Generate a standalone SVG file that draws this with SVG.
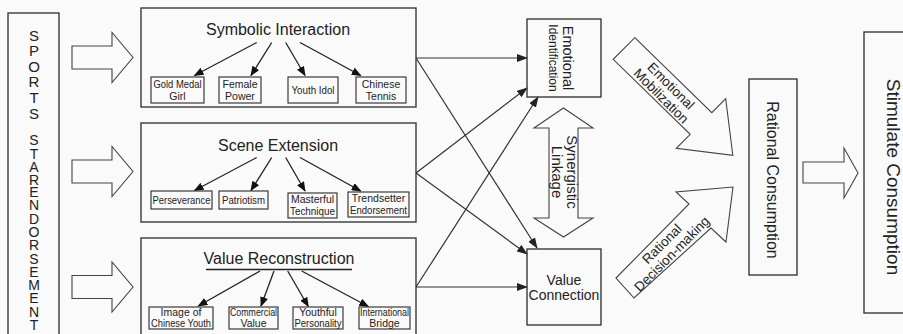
<svg xmlns="http://www.w3.org/2000/svg" width="903" height="334" viewBox="0 0 903 334">
<defs>
<marker id="ah" markerUnits="userSpaceOnUse" markerWidth="11" markerHeight="8" refX="10" refY="4" orient="auto">
<path d="M0,0 L11,4 L0,8 Z" fill="#222"/>
</marker>
<marker id="sh" markerUnits="userSpaceOnUse" markerWidth="10" markerHeight="8" refX="9" refY="4" orient="auto">
<path d="M0,0 L10,4 L0,8 Z" fill="#111"/>
</marker>
<style>
.bx{fill:none;stroke:#3a3a3a;stroke-width:1.4}
.sb{fill:#fafafa;stroke:#3a3a3a;stroke-width:1.2}
.ba{fill:#fafafa;stroke:#444;stroke-width:1.1;stroke-linejoin:miter}
.cn{fill:none;stroke:#333;stroke-width:1.2;marker-end:url(#ah)}
.sa{fill:none;stroke:#222;stroke-width:1.3;marker-end:url(#sh)}
text{font-family:"Liberation Sans",Arial,sans-serif;fill:#222}
.tt{font-size:16px;text-anchor:middle}
.st{font-size:10.5px;text-anchor:middle}
.mid{text-anchor:middle}
.vt{writing-mode:vertical-rl;text-orientation:upright}
</style>
</defs>
<rect width="903" height="334" fill="#fafafa"/>

<g id="sports-star-endorsement">
<rect class="bx" x="8" y="13" width="51" height="330"/>
<text class="vt" x="34" y="26.5" font-size="15" letter-spacing="-1.4">SPORTS</text>
<text class="vt" x="34" y="132.4" font-size="14" letter-spacing="-2.7">STAR</text>
<text class="vt" x="34" y="184" font-size="14" letter-spacing="-2.7">ENDORSEMENT</text>
</g>

<g id="block-arrows-left">
<polygon class="ba" points="72,46 112,46 112,32.5 133,57.5 112,82.5 112,69 72,69"/>
<polygon class="ba" points="72,160 112,160 112,146.5 133,171.5 112,196.5 112,183 72,183"/>
<polygon class="ba" points="72,275.5 112,275.5 112,262 133,287 112,312 112,298.5 72,298.5"/>
</g>

<g id="symbolic-interaction">
<rect class="bx" x="141" y="8" width="275" height="99"/>
<text class="tt" x="278" y="35">Symbolic Interaction</text>
<line class="sa" x1="256.7" y1="42.5" x2="194.5" y2="75.5"/>
<line class="sa" x1="271.7" y1="42.5" x2="251" y2="75.5"/>
<line class="sa" x1="285.7" y1="42.5" x2="305" y2="75.5"/>
<line class="sa" x1="300" y1="42.5" x2="360.7" y2="75.5"/>
<g id="gold-medal-girl"><rect class="sb" x="151" y="77" width="53" height="26"/><text class="st" x="177.5" y="87.5" textLength="48" lengthAdjust="spacingAndGlyphs">Gold Medal</text><text class="st" x="177.5" y="99.5">Girl</text></g>
<g id="female-power"><rect class="sb" x="219" y="77" width="42" height="26"/><text class="st" x="240" y="87.5">Female</text><text class="st" x="240" y="99.5">Power</text></g>
<g id="youth-idol"><rect class="sb" x="288" y="77" width="50" height="26"/><text class="st" x="313" y="93.5" textLength="43" lengthAdjust="spacingAndGlyphs">Youth Idol</text></g>
<g id="chinese-tennis"><rect class="sb" x="356" y="77" width="50" height="26"/><text class="st" x="381" y="87.5">Chinese</text><text class="st" x="381" y="99.5">Tennis</text></g>
</g>

<g id="scene-extension">
<rect class="bx" x="141" y="123" width="275" height="99"/>
<text class="tt" x="278" y="151">Scene Extension</text>
<line class="sa" x1="256.7" y1="157.5" x2="194.5" y2="190.5"/>
<line class="sa" x1="271.7" y1="157.5" x2="251" y2="190.5"/>
<line class="sa" x1="285.7" y1="157.5" x2="305" y2="191"/>
<line class="sa" x1="300" y1="157.5" x2="360.7" y2="191"/>
<g id="perseverance"><rect class="sb" x="151" y="191" width="61" height="18"/><text class="st" x="181.5" y="204" textLength="58" lengthAdjust="spacingAndGlyphs">Perseverance</text></g>
<g id="patriotism"><rect class="sb" x="219" y="191" width="49" height="18"/><text class="st" x="243.5" y="204" textLength="43" lengthAdjust="spacingAndGlyphs">Patriotism</text></g>
<g id="masterful-technique"><rect class="sb" x="288" y="193" width="49" height="25"/><text class="st" x="312.5" y="202.5">Masterful</text><text class="st" x="312.5" y="214.5" textLength="45" lengthAdjust="spacingAndGlyphs">Technique</text></g>
<g id="trendsetter-endorsement"><rect class="sb" x="348" y="192" width="61" height="25"/><text class="st" x="378.5" y="201.5">Trendsetter</text><text class="st" x="378.5" y="213.5" textLength="57" lengthAdjust="spacingAndGlyphs">Endorsement</text></g>
</g>

<g id="value-reconstruction">
<rect class="bx" x="141" y="238" width="275" height="105"/>
<text class="tt" x="279" y="264">Value Reconstruction</text>
<line x1="206" y1="269.5" x2="352" y2="269.5" stroke="#222" stroke-width="1.3"/>
<line class="sa" x1="260" y1="271" x2="198.3" y2="306"/>
<line class="sa" x1="274" y1="271" x2="261" y2="306"/>
<line class="sa" x1="287.7" y1="271" x2="308.3" y2="306.5"/>
<line class="sa" x1="301.7" y1="271" x2="368.3" y2="306.5"/>
<g id="image-of-chinese-youth"><rect class="sb" x="149" y="307" width="64" height="22"/><text class="st" x="181" y="315.5">Image of</text><text class="st" x="181" y="326.5" textLength="60" lengthAdjust="spacingAndGlyphs">Chinese Youth</text></g>
<g id="commercial-value"><rect class="sb" x="229" y="307" width="49" height="22"/><text class="st" x="253.5" y="315.5" textLength="47" lengthAdjust="spacingAndGlyphs">Commercial</text><text class="st" x="253.5" y="326.5">Value</text></g>
<g id="youthful-personality"><rect class="sb" x="293" y="307" width="50" height="22"/><text class="st" x="318" y="315.5">Youthful</text><text class="st" x="318" y="326.5" textLength="47" lengthAdjust="spacingAndGlyphs">Personality</text></g>
<g id="international-bridge"><rect class="sb" x="359" y="307" width="51" height="22"/><text class="st" x="384.5" y="315.5" textLength="49" lengthAdjust="spacingAndGlyphs">International</text><text class="st" x="384.5" y="326.5">Bridge</text></g>
</g>

<g id="connectors">
<line class="cn" x1="416" y1="58" x2="527" y2="58"/>
<line class="cn" x1="416" y1="58" x2="537" y2="248"/>
<line class="cn" x1="416" y1="173" x2="527" y2="88"/>
<line class="cn" x1="416" y1="173" x2="527" y2="254"/>
<line class="cn" x1="416" y1="287" x2="538" y2="97"/>
<line class="cn" x1="416" y1="287" x2="527" y2="287"/>
</g>

<g id="emotional-identification">
<rect class="bx" x="527" y="19" width="74" height="78"/>
<text transform="translate(563,58) rotate(90)" class="mid" font-size="14.5">Emotional</text>
<text transform="translate(549,58) rotate(90)" class="mid" font-size="12">Identification</text>
</g>

<g id="synergistic-linkage">
<polygon class="ba" points="563.5,108 593,128 578,128 578,218 593,218 563.5,237 534,218 549,218 549,128 534,128"/>
<text transform="translate(567,172) rotate(90)" class="mid" font-size="15">Synergistic</text>
<text transform="translate(552,172) rotate(90)" class="mid" font-size="15">Linkage</text>
</g>

<g id="value-connection">
<rect class="bx" x="527" y="249" width="74" height="76"/>
<text class="mid" x="564" y="285" font-size="14">Value</text>
<text class="mid" x="564" y="300" font-size="14">Connection</text>
</g>

<g id="emotional-mobilization">
<polygon class="ba" points="634.8,37.7 711.8,112.7 725.7,98.7 732.8,155.3 676.3,148.3 690.2,134.3 613.2,59.3"/>
<g transform="translate(666,91) rotate(45)">
<text class="mid" font-size="13.5" y="-2.5">Emotional</text>
<text class="mid" font-size="13.5" y="11.5">Mobilization</text>
</g>
</g>

<g id="rational-decision-making">
<polygon class="ba" points="616,278 689,204 676,192 733,187 726,242 711,228 634,298"/>
<g transform="translate(667,249) rotate(-45)">
<text class="mid" font-size="13.5" y="-2.5">Rational</text>
<text class="mid" font-size="13.5" y="11.5">Decision-making</text>
</g>
</g>

<g id="rational-consumption">
<rect class="bx" x="749" y="79" width="48" height="196"/>
<text transform="translate(767,180) rotate(90)" class="mid" font-size="16">Rational Consumption</text>
</g>

<g id="arrow-to-stimulate">
<polygon class="ba" points="803,162 844,162 844,148 858,173 844,198 844,183 803,183"/>
</g>

<g id="stimulate-consumption">
<rect class="bx" x="864" y="32" width="60" height="281"/>
<text transform="translate(887,177) rotate(90)" class="mid" font-size="19">Stimulate Consumption</text>
</g>
</svg>
